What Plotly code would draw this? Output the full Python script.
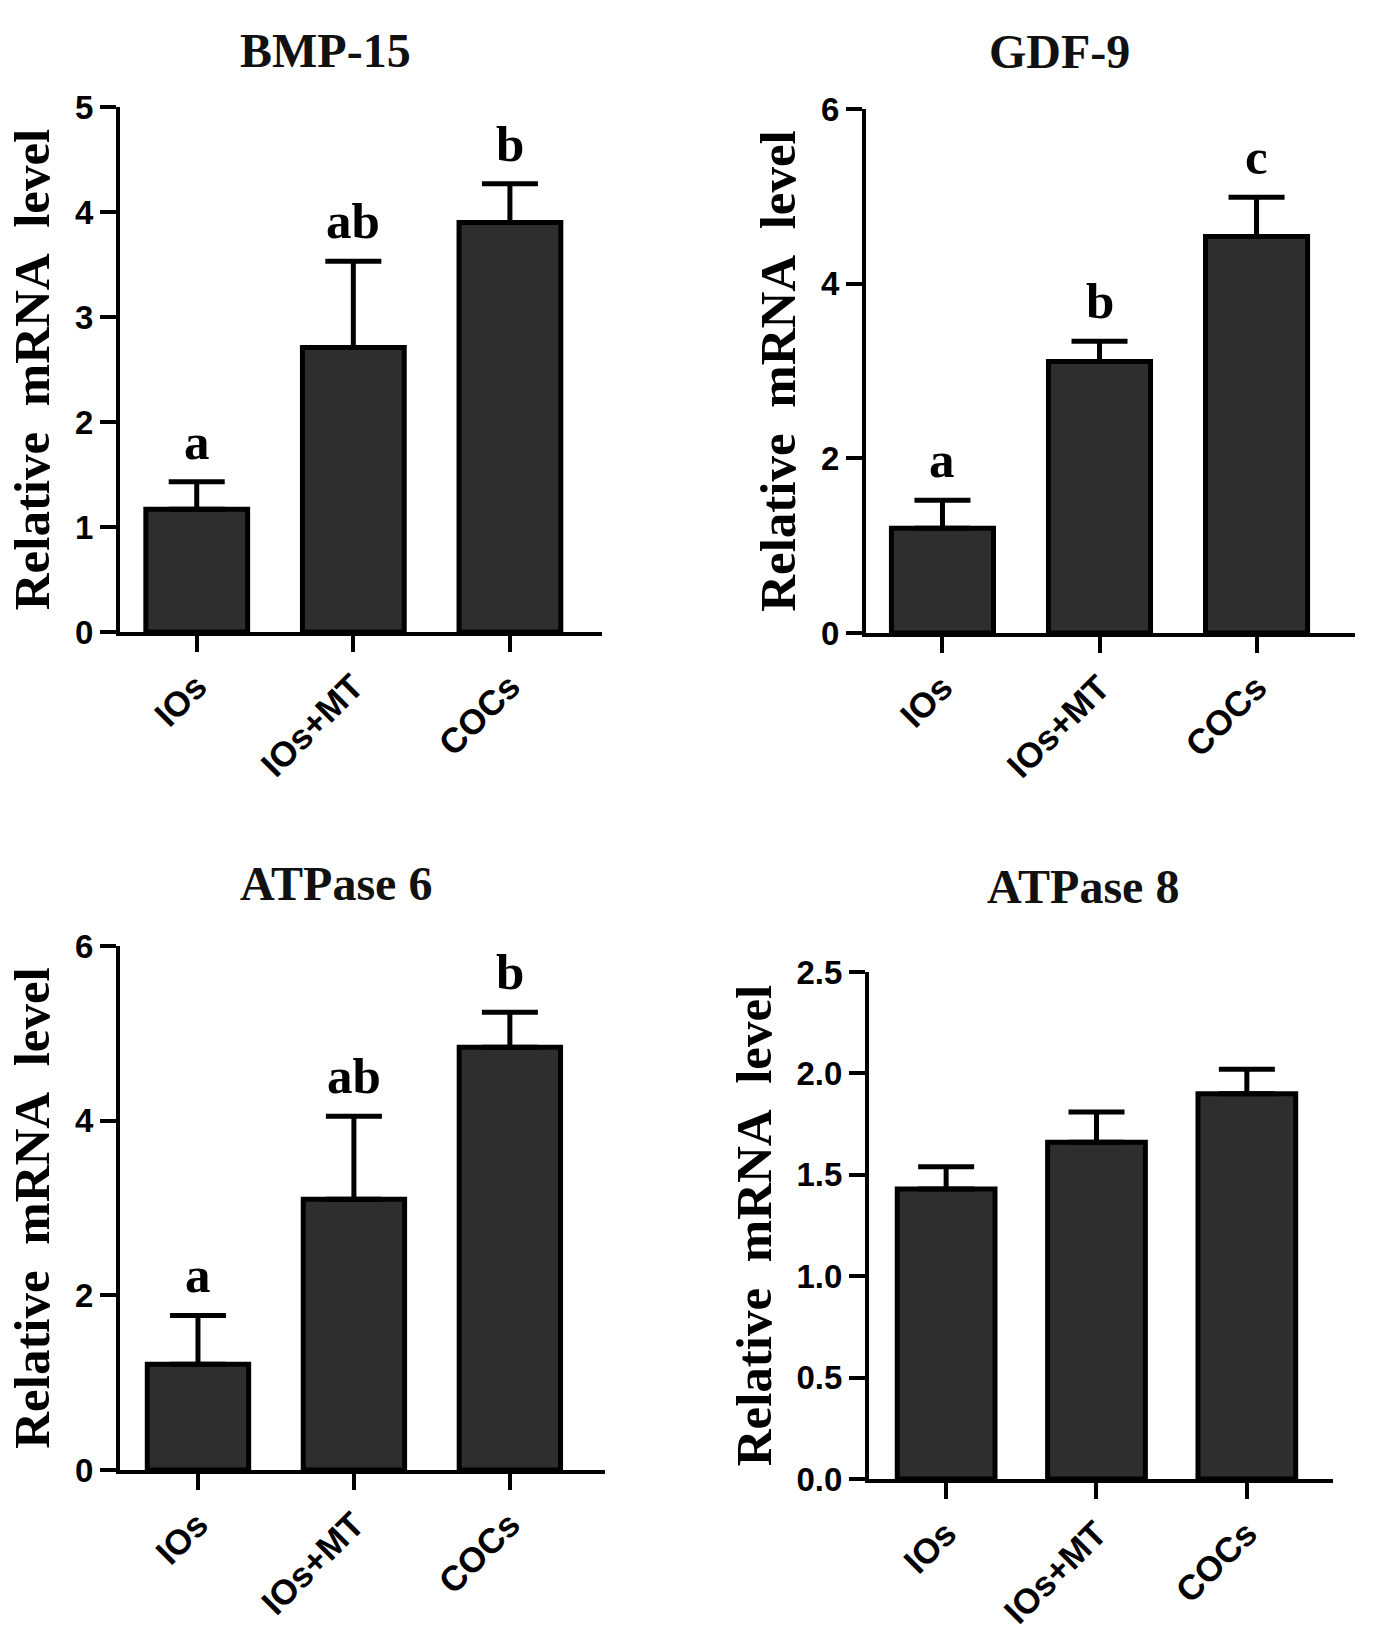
import plotly.graph_objects as go
from plotly.subplots import make_subplots

W, H = 1375, 1646

groups = ["IOs", "IOs+MT", "COCs"]

genes = ["BMP-15", "GDF-9", "ATPase 6", "ATPase 8"]

bmp15_mean = [1.17, 2.71, 3.90]
bmp15_sem = [0.26, 0.82, 0.37]
bmp15_sig = ["a", "ab", "b"]

gdf9_mean = [1.20, 3.11, 4.54]
gdf9_sem = [0.32, 0.23, 0.45]
gdf9_sig = ["a", "b", "c"]

atp6_mean = [1.21, 3.10, 4.84]
atp6_sem = [0.56, 0.95, 0.40]
atp6_sig = ["a", "ab", "b"]

atp8_mean = [1.43, 1.66, 1.90]
atp8_sem = [0.11, 0.15, 0.12]
atp8_sig = ["", "", ""]

means = [bmp15_mean, gdf9_mean, atp6_mean, atp8_mean]
sems = [bmp15_sem, gdf9_sem, atp6_sem, atp8_sem]
sigs = [bmp15_sig, gdf9_sig, atp6_sig, atp8_sig]

y_max = [5, 6, 6, 2.5]
y_dtick = [1, 2, 2, 0.5]
y_fmt = ["d", "d", "d", ".1f"]

# plot boxes in pixels: left, right, top, bottom
boxes = [(120, 602, 107, 632), (866, 1355, 109, 633),
         (120, 605, 946, 1470), (869, 1333, 972, 1479)]
x_ranges = [(-0.49, 2.588), (-0.487, 2.627), (-0.5, 2.61), (-0.513, 2.573)]
# panel titles: centre x, centre y in pixels
title_pos = [(325, 50), (1059, 51), (336, 884), (1083, 886)]

SERIF = "Liberation Serif, Times New Roman, serif"
SANS = "Liberation Sans, Arial, sans-serif"

fig = make_subplots(rows=2, cols=2)

annotations = []
for i in range(4):
    r, c = i // 2 + 1, i % 2 + 1
    fig.add_trace(go.Bar(
        x=groups, y=means[i], width=0.65,
        marker=dict(color="#2e2e2e", line=dict(color="black", width=5)),
        error_y=dict(type="data", array=sems[i], arrayminus=[0, 0, 0],
                     symmetric=False, color="black", thickness=5, width=28),
        showlegend=False,
    ), row=r, col=c)

    left, right, top, bottom = boxes[i]
    ax = "" if i == 0 else str(i + 1)
    fig.layout["xaxis" + ax].update(
        domain=[left / W, right / W], range=list(x_ranges[i]), automargin=False,
        showline=True, linewidth=4, linecolor="black",
        ticks="outside", ticklen=16, tickwidth=4, tickcolor="black",
        tickangle=-45, showgrid=False, zeroline=False,
        tickfont=dict(family=SANS, size=35, color="black", weight="bold"),
    )
    fig.layout["yaxis" + ax].update(
        domain=[1 - bottom / H, 1 - top / H], range=[0, y_max[i]], automargin=False,
        dtick=y_dtick[i], tickformat=y_fmt[i],
        showline=True, linewidth=4, linecolor="black",
        ticks="outside", ticklen=16, tickwidth=4, tickcolor="black",
        showgrid=False, zeroline=False,
        tickfont=dict(family=SANS, size=33, color="black", weight="bold"),
        title=dict(text="Relative\u00a0\u00a0mRNA\u00a0\u00a0level", standoff=10,
                   font=dict(family=SERIF, size=51, color="black", weight="bold")),
    )

    for g, m, s, t in zip(groups, means[i], sems[i], sigs[i]):
        if t:
            annotations.append(dict(
                x=g, y=m + s, xref="x" + ax, yref="y" + ax,
                text=t, showarrow=False, yanchor="bottom", yshift=10,
                font=dict(family=SERIF, size=51, color="black", weight="bold"),
            ))

    tx, ty = title_pos[i]
    annotations.append(dict(
        x=tx / W, y=1 - ty / H, xref="paper", yref="paper",
        text=genes[i], showarrow=False, xanchor="center", yanchor="middle",
        font=dict(family=SERIF, size=48, color="#111111", weight="bold"),
    ))

fig.update_layout(
    width=W, height=H,
    margin=dict(l=0, r=0, t=0, b=0, autoexpand=False),
    plot_bgcolor="white", paper_bgcolor="white",
    annotations=annotations,
    bargap=0.3,
)

fig.write_html("out.html", config={"displayModeBar": False},
               post_script="document.body.style.margin = '0';")
